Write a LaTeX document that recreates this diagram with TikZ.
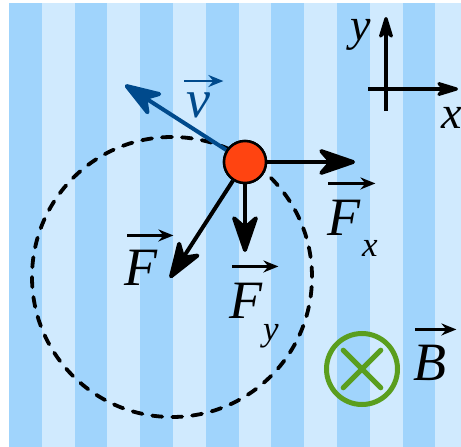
\documentclass[tikz,border=0pt]{standalone}
\usepackage{fontspec}
\setmainfont{Liberation Serif}
\usetikzlibrary{arrows.meta,positioning,calc}
\definecolor{lbStripeDark}{HTML}{A0D4FC}
\definecolor{lbStripeLight}{HTML}{D0EAFE}
\definecolor{lbBlue}{HTML}{004A8C}
\definecolor{lbRed}{HTML}{FF4411}
\definecolor{lbGreen}{HTML}{5A9E1E}

\begin{document}
\begin{tikzpicture}[x=1pt,y=-1pt,
  every node/.style={font=\fontsize{54}{60}\selectfont\itshape,inner sep=0pt},
  force/.style={-{Stealth[length=44pt,width=30pt,inset=13pt,round]},line width=4pt},
  vecbar/.style={-{Stealth[length=15pt,width=12pt,inset=5pt]},line width=2.4pt},
  axis/.style={-{Stealth[length=28pt,width=17pt,inset=8pt,round]},line width=3.2pt},
  sub/.style={font=\fontsize{35}{40}\selectfont\itshape}]
  \useasboundingbox (0,0) rectangle (461,447);
  % striped field
  \fill[lbStripeLight] (9,3) rectangle (461,447);
  \foreach \k in {0,...,6}
    \fill[lbStripeDark] ({9+65.6*\k},3) rectangle ++(32.8,444);

  % orbit and particle
  \node[circle,draw,line width=3.8pt,line cap=round,dash pattern=on 10pt off 10pt,minimum size=280pt] (orbit) at (172,277) {};
  \node[circle,draw,fill=lbRed,line width=2.5pt,minimum size=42pt] (q) at (245,162) {};

  % vectors
  \coordinate (vtip) at (125,85);
  \coordinate (Fxtip) at (355,162);
  \coordinate (Ftip) at (170,278);
  \coordinate (Fytip) at (245,252);
  \draw[force,lbBlue] (q) -- (vtip);
  \draw[force] (q) -- (Fxtip);
  \draw[force] (q) -- (Ftip);
  \draw[force] (q) -- (Fytip);
  \node[circle,draw,fill=lbRed,line width=2.5pt,minimum size=42pt] at (q) {};

  % labels
  \node[anchor=base west,text=lbBlue] (vlab) at (186,117) {v};
  \draw[vecbar,lbBlue] ([xshift=-2pt,yshift=11pt]vlab.north west) -- ([xshift=13pt,yshift=11pt]vlab.north east);
  \node[anchor=base west] (Fxlab) at (327,235) {F};
  \node[anchor=base west,sub] (Fxsub) at (362,256) {x};
  \draw[vecbar] ([xshift=1pt,yshift=16pt]Fxlab.north west) -- ([xshift=15pt,yshift=16pt]Fxlab.north east);
  \node[anchor=base west] (Flab) at (124,285) {F};
  \draw[vecbar] ([xshift=3pt,yshift=14pt]Flab.north west) -- ([xshift=16pt,yshift=14pt]Flab.north east);
  \node[anchor=base west] (Fylab) at (229,318) {F};
  \node[anchor=base west,sub] (Fysub) at (263,340) {y};
  \draw[vecbar] ([xshift=3pt,yshift=16pt]Fylab.north west) -- ([xshift=16pt,yshift=16pt]Fylab.north east);

  % field into page
  \node[circle,draw=lbGreen,line width=5pt,minimum size=71pt] (Bsym) at (362,369) {};
  \draw[lbGreen,line width=5pt,line cap=round] ($(Bsym.center)!0.7!(Bsym.north west)$) -- ($(Bsym.center)!0.7!(Bsym.south east)$);
  \draw[lbGreen,line width=5pt,line cap=round] ($(Bsym.center)!0.7!(Bsym.north east)$) -- ($(Bsym.center)!0.7!(Bsym.south west)$);
  \node[anchor=base west] (Blab) at (413,380) {B};
  \draw[vecbar] ([xshift=2pt,yshift=15pt]Blab.north west) -- ([xshift=10pt,yshift=15pt]Blab.north east);

  % axes
  \coordinate (ybot) at (386,111);
  \coordinate (ytip) at (386,17);
  \coordinate (xleft) at (368,89);
  \coordinate (xtip) at (458,89);
  \draw[axis] (ybot) -- (ytip);
  \draw[axis] (xleft) -- (xtip);
  \node[anchor=base west,font=\fontsize{46}{50}\selectfont\itshape] (ylab) at (350,40) {y};
  \node[anchor=base west,font=\fontsize{46}{50}\selectfont\itshape] (xlab) at (441,128) {x};
\end{tikzpicture}
\end{document}
